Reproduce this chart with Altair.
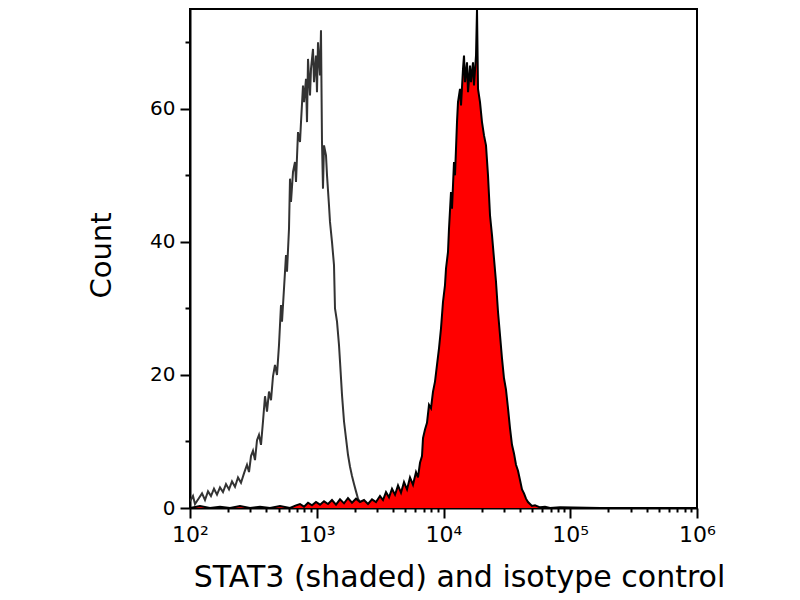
import altair as alt
import pandas as pd

# Isotype control histogram (fluorescence intensity, count)
iso_x = [100, 105.6, 109.5, 117.8, 124.4, 131.3, 138.7, 146.4, 154.6, 163.3,
         172.5, 182.1, 192.3, 203.1, 214.5, 226.5, 239.2, 252.6, 266.7, 281.6,
         292.1, 302.9, 314.1, 325.7, 337.8, 350.2, 363.2, 376.6, 390.6, 405.0,
         420.0, 435.6, 451.7, 468.4, 485.7, 503.7, 522.3, 531.9, 551.6, 572.0,
         582.5, 604.1, 615.1, 626.4, 649.6, 673.6, 686.0, 711.4, 737.7, 751.2,
         779.0, 793.3, 822.7, 837.7, 853.1, 884.7, 900.9, 934.2, 951.3, 986.5,
         1004.5, 1023, 1061, 1080, 1100, 1120, 1141, 1183, 1205, 1249,
         1272, 1319, 1368, 1393, 1445, 1498, 1526, 1582, 1641, 1701,
         1764, 1830, 1897, 1968, 2040, 2116, 2194, 2275, 2403, 2537,
         2729, 2934, 3155, 3456, 3785, 4145, 4540, 5446, 6532, 9370,
         13497, 27910]
iso_y = [1.0, 1.8, 0.6, 1.5, 2.2, 1.2, 2.5, 1.8, 2.9, 2.0,
         3.1, 2.4, 3.6, 2.8, 4.0, 3.2, 4.6, 3.8, 5.2, 6.5,
         5.4, 7.8, 8.6, 7.2, 10.2, 11.0, 9.5, 13.0, 16.8, 14.5,
         17.5, 16.2, 19.8, 21.5, 20.0, 24.5, 30.5, 28.0, 33.0, 38.0,
         35.5, 42.0, 49.5, 46.0, 50.5, 52.0, 49.0, 56.5, 55.0, 58.0,
         63.5, 61.0, 64.5, 58.0, 67.5, 62.0, 66.0, 69.0, 64.0, 68.0,
         62.5, 70.0, 65.0, 71.8, 55.0, 48.0, 54.5, 53.0, 50.0, 45.5,
         43.0, 40.0, 36.5, 30.0, 28.0, 24.5, 22.0, 17.0, 13.0, 10.5,
         8.0, 6.2, 4.8, 3.6, 2.5, 1.4, 0.9, 0.4, 0.2, 0.6,
         0.3, 0.5, 0.2, 0.4, 0.1, 0.3, 0.0, 0.2, 0.0, 0.1,
         0.0, 0.0]

# STAT3 stained histogram (fluorescence intensity, count)
stat_x = [100, 119.9, 143.8, 172.5, 206.8, 248.0, 297.4, 356.7, 427.7, 512.9,
          615.1, 686.0, 737.7, 793.3, 853.1, 917.4, 986.5, 1061, 1141, 1227,
          1319, 1419, 1526, 1641, 1764, 1897, 2040, 2194, 2360, 2537,
          2729, 2934, 3155, 3332, 3518, 3716, 3924, 4145, 4376, 4621,
          4880, 5154, 5441, 5745, 6068, 6292, 6526, 6767, 6891, 7146,
          7410, 7685, 7969, 8264, 8569, 8886, 9215, 9556, 9910, 10276,
          10465, 10852, 11051, 11460, 11670, 12101, 12324, 12780, 13014, 13497,
          13744, 14253, 14514, 14780, 15327, 15608, 16185, 16482, 17092, 17405,
          18049, 18380, 18717, 19409, 20126, 20871, 21643, 22443, 23275, 24134,
          25026, 25953, 26913, 27910, 28942, 30012, 31122, 32273, 33466, 34704,
          35987, 37323, 38702, 40133, 41617, 43155, 44751, 46406, 48122, 49902,
          52707, 57709, 63201, 69226, 83015, 171700, 1000000]
stat_y = [0.0, 0.3, 0.0, 0.2, 0.0, 0.3, 0.0, 0.2, 0.0, 0.3,
          0.0, 0.4, 0.6, 0.2, 0.8, 0.4, 0.9, 0.5, 1.0, 0.6,
          1.2, 0.5, 1.3, 0.7, 1.5, 0.8, 1.4, 0.9, 1.2, 0.6,
          1.3, 0.9, 1.8, 1.2, 2.4, 1.6, 2.9, 2.0, 3.4, 2.3,
          3.9, 2.8, 4.6, 3.5, 5.4, 4.6, 6.8, 7.8, 10.5, 11.8,
          12.8, 15.5, 15.0, 17.5, 19.0, 21.5, 24.0, 27.0, 31.0, 33.5,
          36.0, 38.5, 42.0, 47.5, 45.0, 52.0, 50.0, 58.0, 61.0, 63.0,
          60.5, 66.0, 68.0, 64.0, 67.0, 62.5, 66.5, 64.0, 67.0, 63.5,
          68.0, 75.0, 63.0, 61.0, 58.0, 56.0, 54.5, 50.0, 44.0, 41.0,
          37.5, 34.0, 29.5, 26.0, 22.5, 19.5, 17.8, 15.0, 12.0, 9.5,
          8.2, 6.5, 5.6, 4.2, 2.8, 2.2, 1.4, 0.9, 0.6, 0.3,
          0.4, 0.1, 0.2, 0.0, 0.1, 0.0, 0.0]

x_ticks = [100, 200, 300, 400, 500, 600, 700, 800, 900,
           1000, 2000, 3000, 4000, 5000, 6000, 7000, 8000, 9000,
           10000, 20000, 30000, 40000, 50000, 60000, 70000, 80000, 90000,
           100000, 200000, 300000, 400000, 500000, 600000, 700000, 800000, 900000,
           1000000]
y_ticks = [0, 10, 20, 30, 40, 50, 60, 70]

assert len(iso_x) == len(iso_y) and len(stat_x) == len(stat_y)

iso = pd.DataFrame({"x": iso_x, "y": iso_y})
stat = pd.DataFrame({"x": stat_x, "y": stat_y})

FONT = "DejaVu Sans"

x_enc = alt.X(
    "x:Q",
    scale=alt.Scale(type="log", domain=[100, 1000000], nice=False),
    axis=alt.Axis(
        values=x_ticks,
        labelExpr="datum.value==100?'10²':datum.value==1000?'10³':datum.value==10000?'10⁴':datum.value==100000?'10⁵':datum.value==1000000?'10⁶':''",
        tickSize={"condition": {"test": "indexof([100,1000,10000,100000,1000000], datum.value) >= 0", "value": 10}, "value": 4},
        title="STAT3 (shaded) and isotype control",
        titleFontSize=30, titleFontWeight="normal", titleFont=FONT,
        titleX=269, titleY=78, titleBaseline="alphabetic",
        labelFontSize=22, labelFont=FONT, labelPadding=6,
        labelOverlap=False, labelFlush=False,
        grid=False, domainColor="black", domainWidth=2,
        tickColor="black", tickWidth=2, labelColor="black", titleColor="black",
    ),
)
y_enc = alt.Y(
    "y:Q",
    scale=alt.Scale(domain=[0, 75], nice=False),
    stack=None,
    axis=alt.Axis(
        values=y_ticks,
        labelExpr="datum.value % 20 == 0 ? datum.label : ''",
        tickSize={"condition": {"test": "datum.value % 20 == 0", "value": 10}, "value": 5},
        title="Count",
        titleFontSize=29, titleFontWeight="normal", titleFont=FONT,
        titleX=-80, titleY=246, titleBaseline="alphabetic",
        labelFontSize=20, labelFont=FONT, labelPadding=5,
        grid=False, domainColor="black", domainWidth=2,
        tickColor="black", tickWidth=2, labelColor="black", titleColor="black",
    ),
)

iso_line = alt.Chart(iso).mark_line(color="#333333", strokeWidth=2, clip=True).encode(
    x=x_enc, y=y_enc)
stat_area = alt.Chart(stat).mark_area(color="#ff0000", opacity=1, clip=True).encode(
    x=x_enc, y=y_enc)
stat_line = alt.Chart(stat).mark_line(color="black", strokeWidth=2, clip=True).encode(
    x=x_enc, y=y_enc)

chart = alt.layer(iso_line, stat_area, stat_line).properties(
    width=507,
    height=499,
    background="white",
    autosize=alt.AutoSizeParams(type="none"),
    padding={"left": 182, "top": 1, "right": 90, "bottom": 88},
).configure_view(stroke="black", strokeWidth=2)

chart.save("out.html", embed_options={"renderer": "svg", "actions": False})
